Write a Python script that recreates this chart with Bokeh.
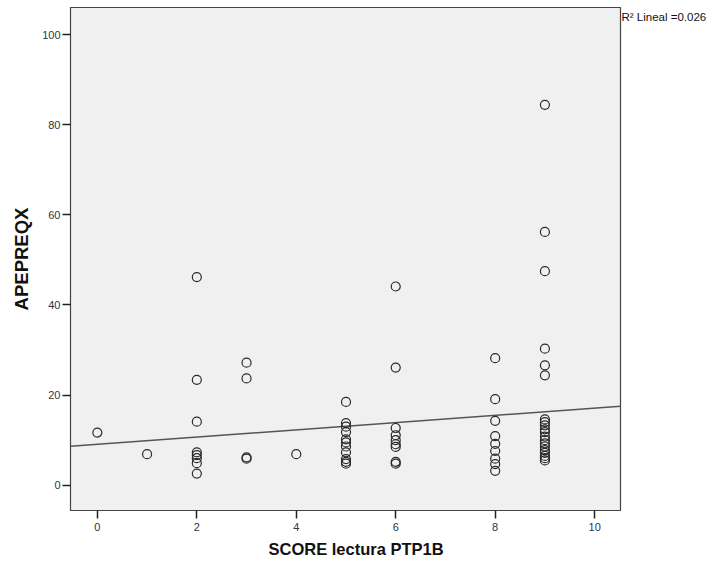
from bokeh.plotting import figure
from bokeh.models import Range1d, FixedTicker, ColumnDataSource, LinearAxis, Title
from bokeh.embed import file_html
from bokeh.resources import INLINE

# data: SCORE lectura PTP1B (x) vs APEPREQX (y)
score_0 = [11.7]
score_1 = [6.9]
score_2 = [46.2, 23.4, 14.1, 7.3, 6.7, 6.0, 4.9, 2.6]
score_3 = [27.2, 23.7, 6.2, 5.9]
score_4 = [6.9]
score_5 = [18.5, 13.8, 13.0, 11.8, 10.2, 9.5, 8.6, 7.3, 5.8, 5.2, 4.8]
score_6 = [44.1, 26.1, 12.7, 11.1, 10.0, 9.1, 8.5, 5.2, 4.8]
score_8 = [28.2, 19.1, 14.3, 10.9, 9.2, 7.6, 5.9, 4.7, 3.2]
score_9 = [84.4, 56.2, 47.5, 30.3, 26.6, 24.4, 14.6, 14.0, 13.3, 12.4, 11.8,
           10.8, 10.0, 9.3, 8.6, 7.8, 7.2, 6.5, 6.0, 5.5]
groups = {0: score_0, 1: score_1, 2: score_2, 3: score_3, 4: score_4,
          5: score_5, 6: score_6, 8: score_8, 9: score_9}

fit_intercept = 9.1
fit_slope = 0.8
r2_text = "R\u00b2 Lineal =0.026"
x_title = "SCORE lectura PTP1B"
y_title = "APEPREQX"

x_ticks = [0, 2, 4, 6, 8, 10]
y_ticks = [0, 20, 40, 60, 80, 100]

xs, ys = [], []
for k, vals in groups.items():
    xs += [k] * len(vals)
    ys += vals

x0, x1 = -0.54, 10.52
y0, y1 = -5.6, 106.0

p = figure(width=717, height=565, output_backend="svg", toolbar_location=None,
           x_range=Range1d(x0, x1), y_range=Range1d(y0, y1),
           min_border_left=70, min_border_right=97, min_border_top=7,
           min_border_bottom=55, background_fill_color="#f0f0f0",
           border_fill_color="white")
p.grid.visible = False
p.outline_line_color = "#444444"
p.outline_line_width = 1.2

for ax in (p.xaxis[0], p.yaxis[0]):
    ax.axis_line_color = "#444444"
    ax.major_tick_line_color = "#222222"
    ax.major_tick_line_width = 1.5
    ax.major_tick_out = 8
    ax.major_tick_in = 0
    ax.minor_tick_line_color = None
    ax.major_label_text_font = "Liberation Sans"
    ax.major_label_text_font_size = "11px"
    ax.major_label_text_color = "#333340"
    ax.axis_label_text_font = "Liberation Sans"
    ax.axis_label_text_font_style = "bold"
    ax.axis_label_text_color = "#111111"

p.yaxis.axis_label_text_font_size = "18.5px"
p.xaxis.ticker = FixedTicker(ticks=x_ticks)
p.yaxis.ticker = FixedTicker(ticks=y_ticks)
p.yaxis.axis_label = y_title
p.xaxis.major_label_standoff = 4
p.yaxis.major_label_standoff = 2
p.yaxis.axis_label_standoff = 7

xt = Title(text=x_title, align="left", offset=198, standoff=9,
           text_font="Liberation Sans", text_font_size="16.5px",
           text_font_style="bold", text_color="#111111")
p.add_layout(xt, "below")

# R² annotation placed in the right border via a label-only axis
r2_pos = 104
r_ax = LinearAxis(ticker=FixedTicker(ticks=[r2_pos]),
                  major_label_overrides={r2_pos: r2_text},
                  axis_line_color=None, major_tick_line_color=None,
                  minor_tick_line_color=None, major_tick_out=0, major_tick_in=0,
                  major_label_standoff=1, major_label_text_font="Liberation Sans",
                  major_label_text_font_size="11.5px",
                  major_label_text_color="#111111")
p.add_layout(r_ax, "right")

fx = [x0, x1]
fy = [fit_intercept + fit_slope * v for v in fx]
p.line(fx, fy, line_color="#555555", line_width=1.5)

src = ColumnDataSource(dict(x=xs, y=ys))
p.scatter("x", "y", source=src, size=9, marker="circle", fill_color=None,
          line_color="#2a2a2a", line_width=1.2)

open("out.html", "w").write(file_html(p, INLINE))
